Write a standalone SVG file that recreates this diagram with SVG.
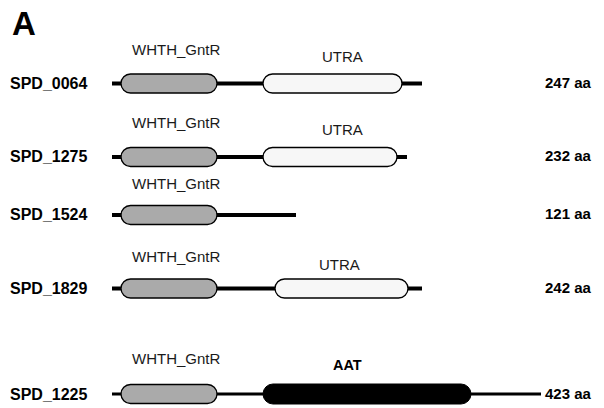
<svg xmlns="http://www.w3.org/2000/svg" width="604" height="408" viewBox="0 0 604 408">
  <style>
    .name { font-family: "Liberation Sans", Arial, sans-serif; font-weight: bold; font-size: 16px; fill: #000; }
    .len { font-family: "Liberation Sans", Arial, sans-serif; font-weight: bold; font-size: 15px; fill: #000; }
    .dom { font-family: "Liberation Sans", Arial, sans-serif; font-size: 15px; fill: #1a1a1a; }
    .domb { font-family: "Liberation Sans", Arial, sans-serif; font-weight: bold; font-size: 14.5px; fill: #000; }
    .chain { stroke: #000; stroke-width: 4; }
    .chain-thin { stroke: #000; stroke-width: 3; }
    .whth { fill: #aaaaaa; stroke: #000; stroke-width: 1.3; }
    .utra { fill: #f7f7f7; stroke: #000; stroke-width: 1.3; }
    .aat { fill: #000; stroke: #000; stroke-width: 1; }
  </style>

  <text x="12" y="35" font-family="Liberation Sans, Arial, sans-serif" font-weight="bold" font-size="33">A</text>

  <!-- backbone lines -->
  <g id="chains">
    <line class="chain" x1="112" y1="83.5" x2="422" y2="83.5"/>
    <line class="chain" x1="112" y1="157" x2="407" y2="157"/>
    <line class="chain" x1="112" y1="215" x2="296" y2="215"/>
    <line class="chain" x1="112" y1="288.5" x2="422" y2="288.5"/>
    <line class="chain-thin" x1="112" y1="394" x2="541" y2="394"/>
  </g>

  <g id="SPD_0064">
    <text class="name" x="10" y="89">SPD_0064</text>
    <rect class="whth" x="121" y="74" width="96" height="19" rx="9.5"/>
    <text class="dom" x="132" y="55">WHTH_GntR</text>
    <rect class="utra" x="263" y="74" width="139" height="19" rx="9.5"/>
    <text class="dom" x="322" y="62">UTRA</text>
    <text class="len" x="545" y="88">247 aa</text>
  </g>

  <g id="SPD_1275">
    <text class="name" x="10" y="162">SPD_1275</text>
    <rect class="whth" x="121" y="147.5" width="96" height="19" rx="9.5"/>
    <text class="dom" x="132" y="128">WHTH_GntR</text>
    <rect class="utra" x="263" y="147.5" width="134" height="19" rx="9.5"/>
    <text class="dom" x="322" y="135">UTRA</text>
    <text class="len" x="545" y="161">232 aa</text>
  </g>

  <g id="SPD_1524">
    <text class="name" x="10" y="220">SPD_1524</text>
    <rect class="whth" x="121" y="205.5" width="96" height="19" rx="9.5"/>
    <text class="dom" x="132" y="189">WHTH_GntR</text>
    <text class="len" x="545" y="219">121 aa</text>
  </g>

  <g id="SPD_1829">
    <text class="name" x="10" y="294">SPD_1829</text>
    <rect class="whth" x="121" y="279" width="96" height="19" rx="9.5"/>
    <text class="dom" x="132" y="262">WHTH_GntR</text>
    <rect class="utra" x="275" y="279" width="133" height="19" rx="9.5"/>
    <text class="dom" x="319" y="270">UTRA</text>
    <text class="len" x="545" y="293">242 aa</text>
  </g>

  <g id="SPD_1225">
    <text class="name" x="10" y="400">SPD_1225</text>
    <rect class="whth" x="121" y="384.5" width="96" height="19" rx="9.5"/>
    <text class="dom" x="132" y="364">WHTH_GntR</text>
    <rect class="aat" x="263" y="384" width="208" height="20" rx="10"/>
    <text class="domb" x="333" y="370">AAT</text>
    <text class="len" x="545" y="399">423 aa</text>
  </g>
</svg>
